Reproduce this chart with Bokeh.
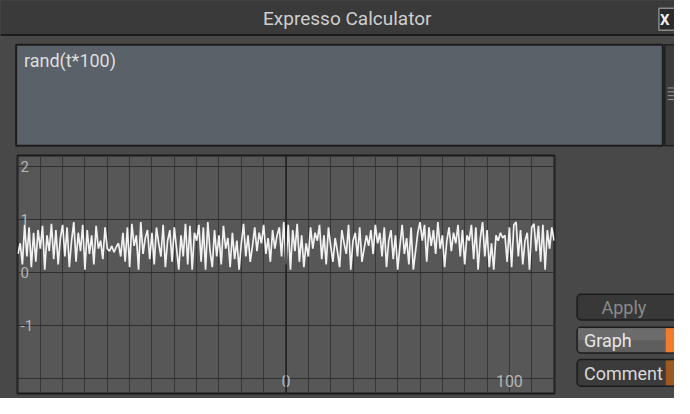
from bokeh.plotting import figure
from bokeh.models import Range1d, Grid, FixedTicker, Span
from bokeh.layouts import column, row
from bokeh.embed import file_html
from bokeh.resources import INLINE
from bokeh.core.properties import value

# ---------------- data ----------------
title_text = "Expresso Calculator"
expression = "rand(t*100)"
t_start = -120
samples = [
    0.35, 0.55, 0.15, 0.90, 0.30, 0.85, 0.10, 0.75, 0.20, 0.80,
    0.45, 0.88, 0.05, 0.70, 0.40, 0.92, 0.25, 0.80, 0.15, 0.65,
    0.90, 0.30, 0.85, 0.10, 0.60, 0.95, 0.20, 0.75, 0.40, 0.90,
    0.05, 0.80, 0.35, 0.70, 0.15, 0.88, 0.45, 0.60, 0.25, 0.85,
    0.45, 0.40, 0.50, 0.38, 0.48, 0.55, 0.30, 0.75, 0.20, 0.85,
    0.10, 0.92, 0.50, 0.70, 0.05, 0.95, 0.35, 0.65, 0.80, 0.25,
    0.75, 0.15, 0.85, 0.55, 0.30, 0.90, 0.10, 0.60, 0.80, 0.20,
    0.85, 0.45, 0.05, 0.70, 0.30, 0.92, 0.15, 0.88, 0.05, 0.75,
    0.60, 0.90, 0.20, 0.85, 0.05, 0.95, 0.40, 0.10, 0.80, 0.30,
    0.70, 0.15, 0.88, 0.45, 0.65, 0.10, 0.75, 0.25, 0.60, 0.05,
    0.55, 0.92, 0.30, 0.70, 0.20, 0.50, 0.85, 0.40, 0.75, 0.55,
    0.90, 0.35, 0.65, 0.20, 0.80, 0.45, 0.70, 0.85, 0.30, 0.95,
    0.15, 0.90, 0.05, 0.80, 0.40, 0.92, 0.20, 0.70, 0.10, 0.55,
    0.30, 0.85, 0.45, 0.75, 0.60, 0.90, 0.25, 0.70, 0.15, 0.85,
    0.50, 0.20, 0.65, 0.40, 0.10, 0.80, 0.55, 0.35, 0.90, 0.05,
    0.60, 0.75, 0.30, 0.85, 0.20, 0.45, 0.70, 0.50, 0.80, 0.35,
    0.90, 0.55, 0.75, 0.30, 0.85, 0.10, 0.60, 0.80, 0.25, 0.70,
    0.05, 0.50, 0.90, 0.35, 0.65, 0.15, 0.85, 0.05, 0.40, 0.75,
    0.95, 0.60, 0.90, 0.20, 0.85, 0.50, 0.80, 0.35, 0.95, 0.45,
    0.70, 0.10, 0.60, 0.85, 0.40, 0.75, 0.55, 0.90, 0.30, 0.80,
    0.15, 0.70, 0.60, 0.90, 0.25, 0.85, 0.05, 0.65, 0.95, 0.30,
    0.80, 0.10, 0.55, 0.05, 0.70, 0.60, 0.75, 0.65, 0.70, 0.20,
    0.85, 0.10, 0.90, 0.95, 0.30, 0.80, 0.15, 0.60, 0.75, 0.05,
    0.85, 0.92, 0.40, 0.88, 0.20, 0.90, 0.05, 0.80, 0.45, 0.85,
    0.60,
]
t = list(range(t_start, t_start + len(samples)))
x_grid = list(range(-120, 121, 10))
y_grid = [-2, -1, 0, 1, 2]
y_tick_vals = [2, 1, 0, -1]
y_tick_labels = ["2", "1", "0", "-1"]
x_tick_vals = [0, 100]
x_tick_labels = ["0", "100"]
button_labels = ["Apply", "Graph", "Comment"]

# ---------------- style ----------------
FONT = "Roboto"
BODY = "#484848"


def chrome_fig(w, h, xr, yr):
    p = figure(width=w, height=h, x_range=Range1d(*xr), y_range=Range1d(*yr),
               output_backend="svg", toolbar_location=None,
               x_axis_location=None, y_axis_location=None,
               min_border=0, title=None)
    p.grid.visible = False
    p.outline_line_color = None
    p.background_fill_color = BODY
    p.border_fill_color = BODY
    p.styles = {"background-color": BODY}
    return p


# ---------------- header: title bar + expression box ----------------
hdr = chrome_fig(674, 149, (0, 690), (155, 0))
hdr.quad(left=-5, right=695, top=-5, bottom=36, fill_color="#3a3a3a", line_color=None)
hdr.segment(x0=0, y0=36, x1=690, y1=36, line_color="#1c1c1c", line_width=2)
hdr.text(x=[355], y=[19], text=[title_text], text_font=value(FONT),
         text_font_size="19px", text_color="#cfcfcf",
         text_align="center", text_baseline="middle")
hdr.quad(left=674, right=698, top=8, bottom=31, fill_color="#2a2a2a",
         line_color="#8a8a8a", line_width=1.5)
hdr.text(x=[680], y=[20], text=["X"], text_font=value(FONT), text_font_style="bold",
         text_font_size="15px", text_color="#f0f0f0",
         text_align="center", text_baseline="middle")
hdr.quad(left=16, right=678, top=46, bottom=151, fill_color="#5a6169",
         line_color="#1c1c1c", line_width=2)
hdr.text(x=[24], y=[62], text=[expression], text_font=value(FONT),
         text_font_size="18px", text_color="#dedede",
         text_align="left", text_baseline="middle")
hdr.quad(left=680, right=694, top=46, bottom=151, fill_color="#3c3c3c",
         line_color="#202020", line_width=1.5)
hdr.segment(x0=[683] * 4, y0=[91, 95, 99, 103], x1=[690] * 4, y1=[91, 95, 99, 103],
            line_color="#9a9a9a", line_width=1)

# ---------------- graph ----------------
g = figure(width=562, height=249, x_range=Range1d(-120.2, 120.2),
           y_range=Range1d(-2.29, 2.21), output_backend="svg",
           toolbar_location=None, x_axis_location=None, y_axis_location=None,
           min_border_left=17, min_border_right=8, min_border_top=6,
           min_border_bottom=5, title=None)
g.grid.visible = False
g.background_fill_color = "#575757"
g.border_fill_color = BODY
g.styles = {"background-color": BODY}
g.outline_line_color = "#1a1a1a"
g.outline_line_width = 2
g.add_layout(Grid(dimension=0, ticker=FixedTicker(ticks=x_grid),
                  grid_line_color="#363636", grid_line_width=1))
g.add_layout(Grid(dimension=1, ticker=FixedTicker(ticks=y_grid),
                  grid_line_color="#2e2e2e", grid_line_width=1))
g.add_layout(Span(location=0, dimension="height", line_color="#202020", line_width=1.5))
g.line(t, samples, line_color="#f2f2f2", line_width=1.7)
g.text(x=[-120.2] * len(y_tick_vals), y=y_tick_vals, text=y_tick_labels,
       x_offset=3, text_font=value(FONT), text_font_size="15px",
       text_color="#b5b5b5", text_align="left", text_baseline="middle")
g.text(x=x_tick_vals, y=[-2] * len(x_tick_vals), text=x_tick_labels,
       y_offset=3, text_font=value(FONT), text_font_size="16px",
       text_color="#b5b5b5", text_align="center", text_baseline="middle")

# ---------------- side buttons ----------------
side = chrome_fig(112, 249, (575, 690), (414, 155))
# Apply
side.quad(left=590, right=694, top=306, bottom=334, fill_color="#383838",
          line_color="#1c1c1c", line_width=1.5, border_radius=4)
side.text(x=[638], y=[320], text=[button_labels[0]], text_font=value(FONT),
          text_font_size="18px", text_color="#8a8a8a",
          text_align="center", text_baseline="middle")
# Graph
side.quad(left=590, right=694, top=342, bottom=370, fill_color="#5e5e5e",
          line_color="#1c1c1c", line_width=1.5, border_radius=4)
side.quad(left=591, right=681, top=343, bottom=356, fill_color="#6c6c6c",
          line_color=None)
side.quad(left=681, right=690, top=343, bottom=369, fill_color="#f47a2c",
          line_color=None)
side.text(x=[597], y=[356], text=[button_labels[1]], text_font=value(FONT),
          text_font_size="18px", text_color="#e6e6e6",
          text_align="left", text_baseline="middle")
# Comment
side.quad(left=590, right=694, top=377, bottom=406, fill_color="#3b3b3b",
          line_color="#1c1c1c", line_width=1.5, border_radius=4)
side.quad(left=681, right=690, top=378, bottom=405, fill_color="#9c5a22",
          line_color=None)
side.text(x=[597], y=[392], text=[button_labels[2]], text_font=value(FONT),
          text_font_size="18px", text_color="#d8d8d8",
          text_align="left", text_baseline="middle")

bottom = row(g, side, spacing=0, styles={"background-color": BODY})
p = column(hdr, bottom, spacing=0, styles={"background-color": BODY})
open("out.html", "w").write(file_html(p, INLINE))
